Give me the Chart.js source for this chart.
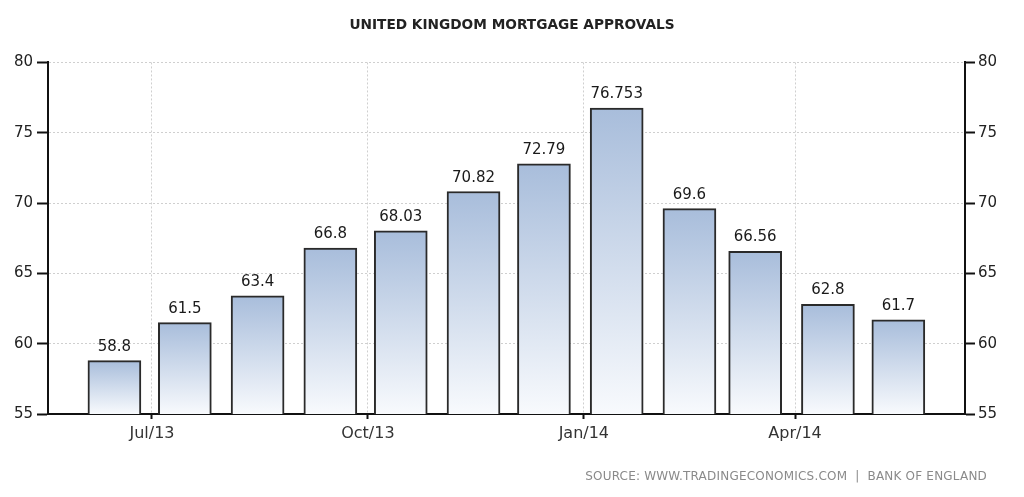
<!DOCTYPE html>
<html>
<head>
<meta charset="utf-8">
<script src="https://cdn.jsdelivr.net/npm/chart.js@4/dist/chart.umd.min.js"></script>
<style>
  body { margin: 0; background: #fff; }
  #wrap { width: 1024px; height: 497px; }
</style>
</head>
<body>
<div id="wrap"><canvas id="chart" width="1024" height="497"></canvas></div>
<script>
// monthly mortgage approvals (thousands), plotted mid-month
const months = ["2013-06-15", "2013-07-15", "2013-08-15", "2013-09-15", "2013-10-15", "2013-11-15",
                "2013-12-15", "2014-01-15", "2014-02-15", "2014-03-15", "2014-04-15", "2014-05-15"];
const approvals = [58.8, 61.5, 63.4, 66.8, 68.03, 70.82, 72.79, 76.753, 69.6, 66.56, 62.8, 61.7];
const tickDates = ["2013-07-01", "2013-10-01", "2014-01-01", "2014-04-01"];
const tickLabels = ["Jul/13", "Oct/13", "Jan/14", "Apr/14"];
const yTicks = [55, 60, 65, 70, 75, 80];

const day = s => Date.parse(s) / 864e5;
const FONT = "'DejaVu Sans', sans-serif";

const barFill = (c) => {
  const { ctx, chartArea, scales } = c.chart;
  if (!chartArea || !c.raw) return "#b4c6df";
  const top = scales.y.getPixelForValue(c.raw.y);
  const g = ctx.createLinearGradient(0, top, 0, chartArea.bottom);
  g.addColorStop(0, "#a8bddb");
  g.addColorStop(1, "#f8fafd");
  return g;
};

const valueLabels = {
  id: "valueLabels",
  afterDatasetsDraw(chart) {
    const ctx = chart.ctx;
    ctx.save();
    ctx.font = "15px " + FONT;
    ctx.fillStyle = "#1a1a1a";
    ctx.textAlign = "center";
    ctx.textBaseline = "alphabetic";
    chart.getDatasetMeta(0).data.forEach((bar, i) => {
      ctx.fillText(String(approvals[i]), bar.x, bar.y - 10);
    });
    ctx.restore();
  }
};

const sourceNote = {
  id: "sourceNote",
  afterDraw(chart) {
    const ctx = chart.ctx;
    ctx.save();
    ctx.font = "12px " + FONT;
    ctx.letterSpacing = "0.2px";
    ctx.fillStyle = "#8a8a8a";
    ctx.textAlign = "right";
    ctx.textBaseline = "middle";
    ctx.fillText("SOURCE: WWW.TRADINGECONOMICS.COM  |  BANK OF ENGLAND", 987, 477);
    ctx.restore();
  }
};

const yAxis = (position, width, pad, tickLen) => ({
  type: "linear",
  position: position,
  min: 55,
  max: 80,
  afterBuildTicks: scale => { scale.ticks = yTicks.map(v => ({ value: v })); },
  afterFit: scale => { scale.width = width; },
  ticks: { color: "#222", padding: pad, font: { family: FONT, size: 15 } },
  grid: {
    color: "#cfcfcf",
    drawOnChartArea: position === "left",
    tickColor: "#111",
    tickLength: tickLen,
    tickWidth: 2,
    tickBorderDash: []
  },
  border: { color: "#111", width: 2, dash: [2, 2] }
});

new Chart(document.getElementById("chart").getContext("2d"), {
  type: "bar",
  data: {
    datasets: [{
      data: months.map((m, i) => ({ x: day(m), y: approvals[i] })),
      backgroundColor: barFill,
      borderColor: "#2a2a2a",
      borderWidth: 2,
      barThickness: 53,
      yAxisID: "y"
    }]
  },
  options: {
    responsive: false,
    animation: false,
    layout: { padding: 0 },
    scales: {
      x: {
        type: "linear",
        z: 1, // vertical grid lines fall in the gaps, so the axis can sit above the bars
        offset: false,
        min: day("2013-06-01") - 14.3,
        max: day("2013-06-01") + 376.4,
        afterBuildTicks: scale => { scale.ticks = tickDates.map(d => ({ value: day(d) })); },
        afterFit: scale => { scale.height = 83; },
        ticks: {
          autoSkip: false,
          maxRotation: 0,
          color: "#333",
          padding: 5,
          font: { family: FONT, size: 16 },
          callback: (v, i) => tickLabels[i]
        },
        grid: { offset: false, color: "#cfcfcf", tickColor: "#111", tickLength: 5, tickWidth: 2, tickBorderDash: [] },
        border: { color: "#111", width: 2, dash: [2, 2] }
      },
      y: yAxis("left", 48, 4, 11),
      y2: yAxis("right", 59, 3, 10)
    },
    plugins: {
      legend: { display: false },
      tooltip: { enabled: false },
      title: {
        display: true,
        text: "UNITED KINGDOM MORTGAGE APPROVALS",
        color: "#222",
        font: { family: FONT, size: 13.7, weight: "bold" },
        padding: { top: 17, bottom: 29 }
      }
    }
  },
  plugins: [valueLabels, sourceNote]
});
</script>
</body>
</html>
